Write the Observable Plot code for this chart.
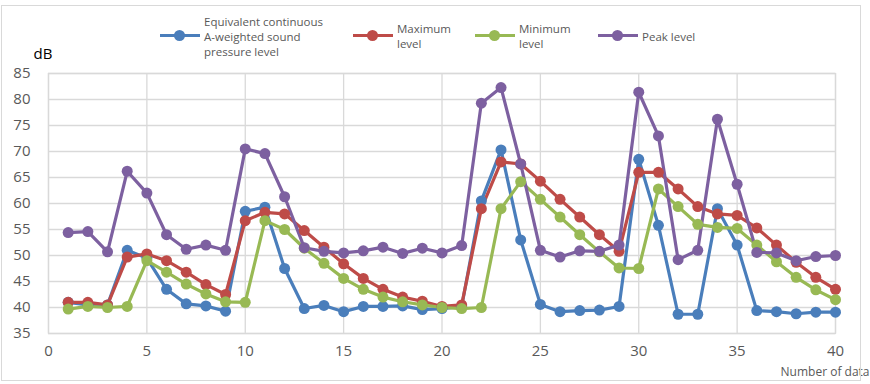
<!DOCTYPE html>
<html><head><meta charset="utf-8">
<script src="https://cdn.jsdelivr.net/npm/d3@7"></script>
<script src="https://cdn.jsdelivr.net/npm/@observablehq/plot@0.6"></script>
<style>
body{margin:0;background:#fff;font-family:"Open Sans",sans-serif;}
#wrap{position:relative;width:870px;height:384px;}
#wrap .frame{position:absolute;left:1px;top:5px;width:860px;height:376px;border:1px solid #d9d9d9;box-sizing:border-box;pointer-events:none;}
.leg{position:absolute;font-size:11.5px;line-height:15px;color:#595959;transform:translateY(-50%);}
.sw{position:absolute;height:3px;width:40px;}
.sw i{position:absolute;left:14px;top:-4px;width:11px;height:11px;border-radius:50%;}
</style></head><body>
<div id="wrap"><div class="frame"></div></div>
<script>
const xs = d3.range(1, 41);
const seriesNames = ["Equivalent continuous A-weighted sound pressure level","Maximum level","Minimum level","Peak level"];
const colors = ["#4a7ebb","#be4b48","#98b954","#7d60a0"];
const leq = [41,40.5,40.5,51,49.5,43.5,40.7,40.3,39.3,58.5,59.3,47.5,39.8,40.4,39.2,40.2,40.2,40.3,39.6,39.8,40.2,60.5,70.3,53,40.6,39.2,39.4,39.5,40.2,68.5,55.8,38.7,38.7,59,52,39.4,39.2,38.8,39.1,39.1];
const maxL = [41,41,40.5,49.7,50.3,49,46.8,44.4,42.5,56.7,58.3,58,54.8,51.6,48.4,45.6,43.5,42,41.2,40.2,40.5,59,68,67.6,64.3,60.8,57.4,54,50.8,66,66,62.8,59.4,58,57.7,55.3,52,48.7,45.8,43.5];
const minL = [39.7,40.2,40,40.2,49,46.8,44.5,42.6,41.1,41,56.7,55,51.4,48.5,45.6,43.5,42,41.1,40.5,40,39.8,40,59,64.2,60.8,57.4,54,50.7,47.6,47.5,62.8,59.4,56,55.4,55.2,52,48.8,45.8,43.4,41.5];
const peak = [54.4,54.6,50.7,66.2,62,54,51.2,52,51,70.5,69.6,61.3,51.5,50.8,50.5,50.9,51.6,50.4,51.4,50.5,51.9,79.3,82.3,67.6,51,49.7,50.9,50.8,52,81.4,73,49.2,51,76.2,63.7,50.6,50.5,49,49.8,50];
const xTicks = [0,5,10,15,20,25,30,35,40];
const yTicks = [35,40,45,50,55,60,65,70,75,80,85];

const all = [leq,maxL,minL,peak];
const data = [];
all.forEach((arr, s) => arr.forEach((v, i) => data.push({x: xs[i], y: v, s: seriesNames[s]})));

const plot = Plot.plot({
  width: 870, height: 384,
  marginTop: 73, marginBottom: 51, marginLeft: 48, marginRight: 35,
  style: {fontFamily: "Open Sans, sans-serif", background: "transparent", overflow: "visible"},
  x: {domain: [0, 40], ticks: xTicks, label: null},
  y: {domain: [35, 85], ticks: yTicks, label: null},
  color: {domain: seriesNames, range: colors},
  marks: [
    Plot.gridX(xTicks, {stroke: "#d9d9d9", strokeOpacity: 1, strokeWidth: 1.3}),
    Plot.gridY(yTicks, {stroke: "#d9d9d9", strokeOpacity: 1, strokeWidth: 1.3}),
    Plot.frame({stroke: "#d9d9d9", strokeWidth: 1.3}),
    Plot.axisX({ticks: xTicks, tickSize: 0, tickPadding: 12, fontSize: 15, color: "#595959", label: null}),
    Plot.axisY({ticks: yTicks, tickSize: 0, tickPadding: 18, fontSize: 15, color: "#595959", label: null}),
    Plot.line(data, {x: "x", y: "y", z: "s", stroke: "s", strokeWidth: 3.2}),
    Plot.dot(data, {x: "x", y: "y", fill: "s", r: 5.5}),
    Plot.text(["dB"], {frameAnchor: "top-left", dx: -15, dy: -25, fontSize: 15, fill: "#000", text: d => d}),
    Plot.text(["Number of data"], {frameAnchor: "bottom-right", dx: 34, dy: 42, fontSize: 12, fill: "#595959", textAnchor: "end", text: d => d})
  ]
});
const wrap = document.getElementById("wrap");
wrap.appendChild(plot);

const legLabels = [["Equivalent continuous","A-weighted sound","pressure level"],["Maximum","level"],["Minimum","level"],["Peak level"]];
const legX = [160, 353, 475, 598];
legLabels.forEach((lines, i) => {
  const sw = document.createElement("div");
  sw.className = "sw"; sw.style.left = legX[i] + "px"; sw.style.top = "34px"; sw.style.background = colors[i];
  const dot = document.createElement("i"); dot.style.background = colors[i]; sw.appendChild(dot);
  wrap.appendChild(sw);
  const t = document.createElement("div");
  t.className = "leg"; t.style.left = (legX[i] + 44) + "px"; t.style.top = "36px";
  t.innerHTML = lines.join("<br>");
  wrap.appendChild(t);
});
</script>
</body></html>
